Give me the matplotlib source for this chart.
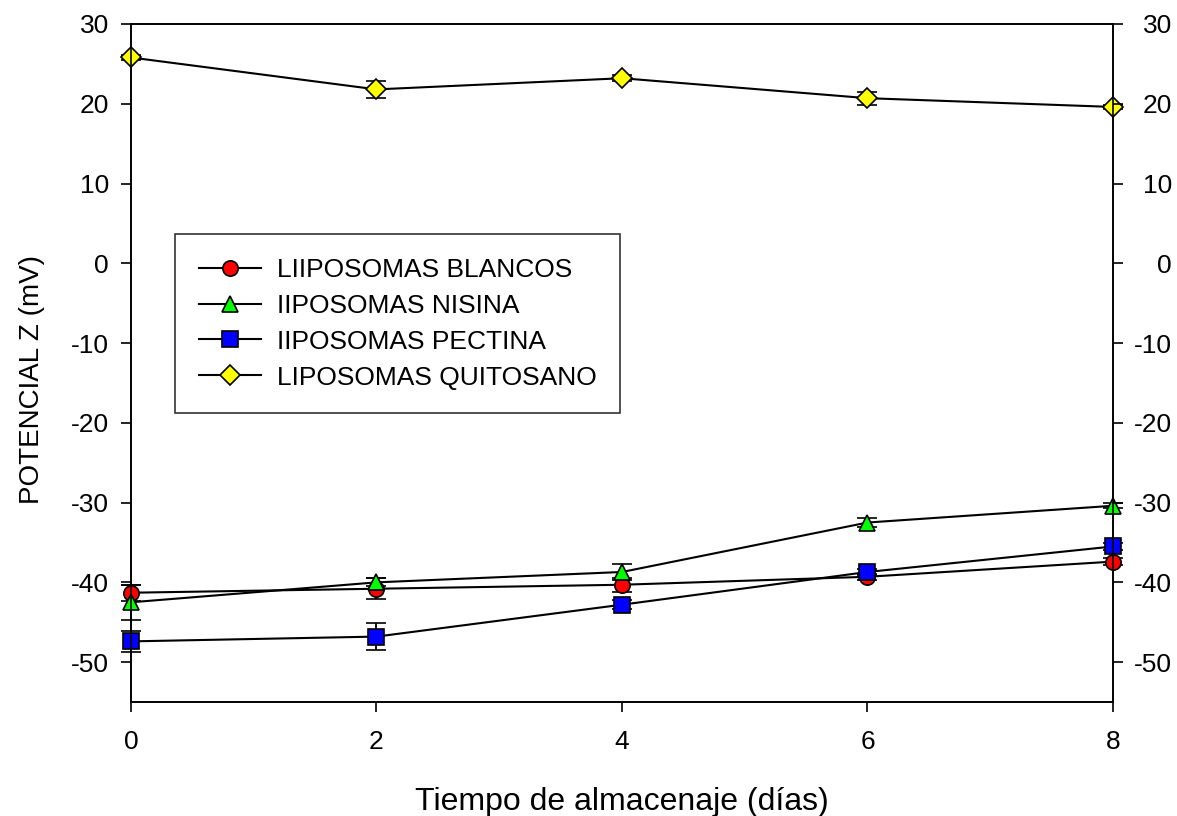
import matplotlib.pyplot as plt
from matplotlib.lines import Line2D
import numpy as np

plt.rcParams['font.family'] = ['Liberation Sans', 'DejaVu Sans']
plt.rcParams['axes.unicode_minus'] = False

# storage days
dias = [0, 2, 4, 6, 8]

# zeta potential (mV) and error per formulation
blancos = [-41.3, -40.8, -40.3, -39.3, -37.4]
blancos_err = [1.0, 1.3, 0.9, 0.4, 0.4]
nisina = [-42.5, -40.0, -38.7, -32.5, -30.4]
nisina_err = [2.2, 0.5, 1.0, 0.6, 0.3]
pectina = [-47.4, -46.8, -42.8, -38.7, -35.5]
pectina_err = [1.3, 1.7, 0.6, 0.4, 0.4]
quitosano = [25.8, 21.8, 23.2, 20.7, 19.6]
quitosano_err = [0.3, 1.05, 0.4, 0.8, 0.3]

etiquetas = ['LIIPOSOMAS BLANCOS', 'IIPOSOMAS NISINA', 'IIPOSOMAS PECTINA', 'LIPOSOMAS QUITOSANO']

fig = plt.figure(figsize=(11.77, 8.16), dpi=100)
ax = fig.add_axes([0.1113, 0.1397, 0.8343, 0.8309])

series = [
    (blancos, blancos_err, 'o', 'red', 11),
    (nisina, nisina_err, '^', '#00ff00', 12),
    (pectina, pectina_err, 's', 'blue', 11),
    (quitosano, quitosano_err, 'D', 'yellow', 10),
]
handles = []
for (vals, err, mk, col, ms), lab in zip(series, etiquetas):
    ax.errorbar(dias, vals, yerr=err, fmt='-', color='black', lw=1.5,
                marker=mk, markerfacecolor=col, markeredgecolor='black',
                markeredgewidth=1.2, markersize=ms, ecolor='black',
                elinewidth=1.3, capsize=7, capthick=1.3,
                clip_on=False, zorder=3)
    handles.append(Line2D([], [], color='black', lw=1.5, marker=mk,
                          markerfacecolor=col, markeredgecolor='black',
                          markeredgewidth=1.2, markersize=ms, label=lab))

ax.set_xlim(0, 8)
ax.set_ylim(-55, 30)
ax.set_xticks([0, 2, 4, 6, 8])
ax.set_yticks(np.arange(-50, 31, 10))
ax.tick_params(axis='both', direction='out', length=7, width=1.2, labelsize=19)
ax.tick_params(axis='x', pad=13)
ax.tick_params(axis='y', pad=9)
for s in ax.spines.values():
    s.set_linewidth(1.2)

# right axis with the same scale, labels right-aligned
ax2 = ax.twinx()
ax2.set_ylim(ax.get_ylim())
ax2.set_yticks(np.arange(-50, 31, 10))
ax2.tick_params(axis='y', direction='out', length=7, width=1.2, labelsize=19, pad=35.5)
for lbl in ax2.get_yticklabels():
    lbl.set_horizontalalignment('right')
for s in ax2.spines.values():
    s.set_linewidth(1.2)

ax.set_xlabel('Tiempo de almacenaje (días)', fontsize=23, labelpad=24)
ax.set_ylabel('POTENCIAL Z (mV)', fontsize=20)
ax.yaxis.set_label_coords(-0.088, 0.475)

leg = ax.legend(handles=handles, loc='upper left', bbox_to_anchor=(0.045, 0.69),
                fontsize=19, frameon=True, fancybox=False, edgecolor='black',
                borderpad=0.9, labelspacing=0.45, handlelength=2.35,
                handletextpad=0.6, borderaxespad=0)
leg.get_frame().set_linewidth(1.2)

fig.savefig('out.png', dpi=100)
